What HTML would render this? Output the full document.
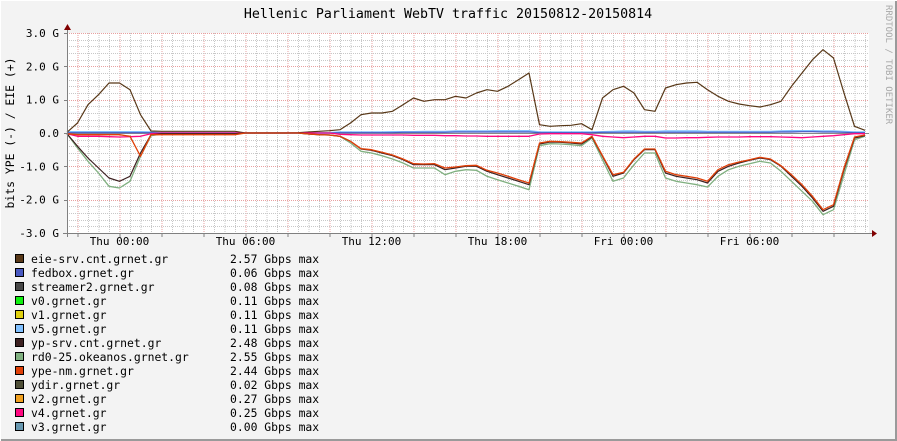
<!DOCTYPE html>
<html><head><meta charset="utf-8"><style>
html,body{margin:0;padding:0;background:#f3f3f3;}
svg{display:block;font-family:"DejaVu Sans Mono","Liberation Mono",monospace;}
</style></head><body>
<svg id="chart" width="897" height="441" viewBox="0 0 897 441" xmlns="http://www.w3.org/2000/svg">
<rect x="0" y="0" width="897" height="441" fill="#f3f3f3"/>
<line x1="0" y1="440" x2="897" y2="440" stroke="#9a9a9a" stroke-width="2"/>
<line x1="896" y1="0" x2="896" y2="441" stroke="#9a9a9a" stroke-width="2"/>
<line x1="0" y1="0.5" x2="897" y2="0.5" stroke="#ffffff"/>
<line x1="0.5" y1="0" x2="0.5" y2="441" stroke="#ffffff"/>
<text x="448" y="18" text-anchor="middle" font-size="13.3" fill="#000">Hellenic Parliament WebTV traffic 20150812-20150814</text>
<text transform="translate(886,5) rotate(90)" font-size="9" fill="#a8a8a8">RRDTOOL / TOBI OETIKER</text>
<text transform="translate(14,133) rotate(-90)" text-anchor="middle" font-size="11.4" fill="#000">bits YPE (-) / EIE (+)</text>
<rect x="67" y="33" width="802" height="200" fill="#ffffff"/>
<g id="grid"></g>
<g id="series"></g>
<g id="axes"></g>
<g id="legend"></g>
</svg>
<script>
// ---- data (Gbps), sampled every 30 min starting Wed 21:30 ----
const tickLabelsY = ["3.0 G","2.0 G","1.0 G","0.0","-1.0 G","-2.0 G","-3.0 G"];
const tickValuesY = [3,2,1,0,-1,-2,-3];
const tickLabelsX = ["Thu 00:00","Thu 06:00","Thu 12:00","Thu 18:00","Fri 00:00","Fri 06:00"];
const tickHoursX = [2.5,8.5,14.5,20.5,26.5,32.5];
const eieSrv = [0.02,0.3,0.85,1.15,1.5,1.5,1.3,0.55,0.06,0.05,0.05,0.05,0.05,0.05,0.05,0.05,0.05,0,0,0,0,0,0.01,0.03,0.05,0.07,0.1,0.3,0.55,0.6,0.6,0.65,0.85,1.05,0.95,1.0,1.0,1.1,1.05,1.2,1.3,1.25,1.4,1.6,1.8,0.25,0.2,0.22,0.23,0.28,0.1,1.05,1.3,1.4,1.2,0.7,0.65,1.35,1.45,1.5,1.52,1.3,1.1,0.95,0.87,0.82,0.78,0.85,0.95,1.4,1.8,2.2,2.5,2.25,1.2,0.2,0.08];
const ypSrv = [0.02,0.4,0.75,1.05,1.35,1.45,1.3,0.6,0.05,0.02,0.02,0.02,0.02,0.02,0.02,0.02,0.02,0,0,0,0,0,0,0.03,0.05,0.06,0.1,0.25,0.48,0.52,0.6,0.68,0.8,0.95,0.95,0.95,1.1,1.05,1.0,1.0,1.15,1.25,1.35,1.45,1.55,0.33,0.27,0.28,0.3,0.33,0.12,0.7,1.3,1.2,0.8,0.5,0.5,1.2,1.3,1.35,1.4,1.5,1.15,1.0,0.9,0.82,0.75,0.8,1.0,1.3,1.6,1.95,2.35,2.2,1.1,0.15,0.08];
const rd025 = [0.02,0.45,0.85,1.2,1.6,1.65,1.45,0.7,0.08,0.03,0.03,0.03,0.03,0.03,0.03,0.03,0.03,0,0,0,0,0,0,0.03,0.05,0.06,0.1,0.3,0.55,0.6,0.68,0.78,0.9,1.05,1.05,1.05,1.25,1.15,1.1,1.12,1.3,1.4,1.5,1.6,1.7,0.38,0.32,0.33,0.35,0.38,0.15,0.8,1.45,1.35,0.95,0.6,0.6,1.35,1.45,1.5,1.55,1.62,1.3,1.1,1.0,0.92,0.85,0.9,1.15,1.45,1.75,2.05,2.45,2.3,1.25,0.2,0.1];
const ypeNm = [0.02,0.05,0.05,0.05,0.05,0.05,0.1,0.7,0.05,0.05,0.05,0.05,0.05,0.05,0.05,0.05,0.05,0,0,0,0,0,0,0.03,0.05,0.06,0.1,0.25,0.47,0.5,0.58,0.66,0.78,0.92,0.93,0.92,1.05,1.02,0.98,0.97,1.12,1.2,1.3,1.4,1.5,0.3,0.25,0.26,0.28,0.3,0.1,0.68,1.25,1.18,0.78,0.48,0.48,1.15,1.25,1.3,1.35,1.45,1.1,0.95,0.87,0.8,0.73,0.78,0.98,1.25,1.55,1.9,2.3,2.15,1.05,0.12,0.06];
const v4 = [0.02,0.1,0.1,0.1,0.11,0.12,0.11,0.1,0.02,0,0,0,0,0,0,0,0,0,0,0,0,0,0,0,0,0,0.04,0.05,0.06,0.06,0.06,0.06,0.06,0.07,0.07,0.07,0.08,0.08,0.09,0.09,0.1,0.1,0.1,0.1,0.1,0.03,0.02,0.02,0.02,0.02,0.05,0.1,0.12,0.14,0.12,0.1,0.1,0.15,0.15,0.14,0.14,0.13,0.12,0.12,0.12,0.11,0.11,0.11,0.12,0.13,0.14,0.12,0.1,0.08,0.05,0.02,0.02];
const v5 = [0.03,0.03,0.03,0.03,0.03,0.03,0.03,0.03,0.02,0,0,0,0,0,0,0,0,0,0,0,0,0,0,0,0,0,0.02,0.02,0.02,0.02,0.02,0.03,0.03,0.03,0.04,0.04,0.04,0.05,0.05,0.05,0.05,0.06,0.06,0.06,0.06,0.02,0.02,0.02,0.02,0.02,0.02,0.03,0.04,0.05,0.05,0.04,0.04,0.05,0.05,0.05,0.05,0.04,0.04,0.04,0.04,0.04,0.04,0.04,0.05,0.06,0.06,0.06,0.05,0.05,0.04,0.02,0.02];
const fedbox = [0.01,0.01,0.01,0.01,0.01,0.01,0.01,0.01,0.01,0,0,0,0,0,0,0,0,0,0,0,0,0,0,0,0,0,0.01,0.01,0.01,0.01,0.01,0.01,0.02,0.02,0.02,0.02,0.02,0.03,0.03,0.03,0.03,0.03,0.03,0.03,0.03,0.01,0.01,0.01,0.01,0.01,0.01,0.02,0.02,0.02,0.02,0.02,0.02,0.02,0.02,0.02,0.02,0.02,0.02,0.02,0.02,0.02,0.02,0.02,0.03,0.03,0.04,0.04,0.03,0.03,0.02,0.01,0.01];

const legendNames = ["eie-srv.cnt.grnet.gr","fedbox.grnet.gr","streamer2.grnet.gr","v0.grnet.gr","v1.grnet.gr","v5.grnet.gr","yp-srv.cnt.grnet.gr","rd0-25.okeanos.grnet.gr","ype-nm.grnet.gr","ydir.grnet.gr","v2.grnet.gr","v4.grnet.gr","v3.grnet.gr"];
const legendMax = ["2.57","0.06","0.08","0.11","0.11","0.11","2.48","2.55","2.44","0.02","0.27","0.25","0.00"];
const legendColors = ["#583818","#4858c0","#484848","#10f010","#e0d010","#80c0ff","#3c2020","#80b080","#e04008","#505038","#f0a020","#ff0880","#6898b0"];

const NS = "http://www.w3.org/2000/svg";
const X0 = 67, X1 = 869, Y0 = 33, Y1 = 233, PXH = 21, HOURS_TOTAL = (X1 - X0) / PXH;
function xh(h){ return X0 + h * PXH; }
function xi(i){ return xh(i * 0.5); }
function yv(v){ return 133 - v * (Y1 - Y0) / 6; }
function mk(tag, attrs, parent){ const e = document.createElementNS(NS, tag); for (const k in attrs) e.setAttribute(k, attrs[k]); parent.appendChild(e); return e; }

const grid = document.getElementById('grid');
for (let h = 0.5; h < HOURS_TOTAL; h += 0.5) {
  const x = xh(h) + 0.5;
  const major = Math.abs(((h - 0.5) % 2)) < 1e-6;
  const l = mk('line', {x1:x, y1:Y0, x2:x, y2:Y1, stroke: major ? '#e8a0a0' : '#c8c8c8', 'stroke-dasharray':'1,1', 'stroke-width':1}, grid);
  
  
}
for (let k = -15; k <= 15; k++) {
  const v = k * 0.2; const y = Math.round(yv(v)) + 0.5;
  const major = k % 5 === 0;
  const l = mk('line', {x1:X0, y1:y, x2:X1, y2:y, stroke: major ? '#e8a0a0' : '#c8c8c8', 'stroke-dasharray':'1,1', 'stroke-width':1}, grid);
  
  
}

const series = document.getElementById('series');
function drawLine(arr, sign, color, name, w){
  const pts = arr.map((v, i) => xi(i).toFixed(1) + ',' + yv(sign * v).toFixed(1)).join(' ');
  const p = mk('polyline', {points: pts, fill:'none', stroke: color, 'stroke-width': w || 1, 'stroke-linejoin':'round'}, series);
  
  
}
mk('line', {x1:X0, y1:133.5, x2:X1, y2:133.5, stroke:'#888888'}, series);
drawLine(v5, 1, '#80c0ff', 'v5-line', 2);
drawLine(fedbox, 1, '#4858c0', 'fedbox-line', 1.2);
drawLine(eieSrv, 1, '#583818', 'eie-srv-line', 1.2);
drawLine(v4, -1, '#ff0880', 'v4-line', 1.3);
drawLine(rd025, -1, '#80b080', 'rd0-25-line', 1.3);
drawLine(ypSrv, -1, '#3c2020', 'yp-srv-line', 1.2);
drawLine(ypeNm, -1, '#e04008', 'ype-nm-line', 1.3);

const axes = document.getElementById('axes');
mk('line', {x1:63, y1:233.5, x2:872, y2:233.5, stroke:'#808080'}, axes);
mk('line', {x1:67.5, y1:237, x2:67.5, y2:29, stroke:'#808080'}, axes);
mk('polygon', {points:'872,230 877,233.5 872,237', fill:'#800000'}, axes);
mk('polygon', {points:'64,30 67.5,24 71,30', fill:'#800000'}, axes);
tickValuesY.forEach((v, i) => {
  const t = mk('text', {x:59, y:yv(v) + 4, 'text-anchor':'end', 'font-size':11, fill:'#000'}, axes);
  t.textContent = tickLabelsY[i];
  
  
  mk('line', {x1:64, y1:Math.round(yv(v))+0.5, x2:67, y2:Math.round(yv(v))+0.5, stroke:'#808080'}, axes);
});
tickHoursX.forEach((h, i) => {
  const t = mk('text', {x:xh(h), y:245, 'text-anchor':'middle', 'font-size':11, fill:'#000'}, axes);
  t.textContent = tickLabelsX[i];
  
  
});
for (let h = 0.5; h < HOURS_TOTAL; h += 2) mk('line', {x1:xh(h)+0.5, y1:233, x2:xh(h)+0.5, y2:237, stroke:'#808080'}, axes);

const legend = document.getElementById('legend');
legendNames.forEach((n, i) => {
  const y = 259 + i * 14;
  const g = mk('g', {}, legend);
  
  
  mk('rect', {x:15.5, y:y-4.5, width:8, height:8, fill:legendColors[i], stroke:'#000', 'stroke-width':1}, g);
  const t = mk('text', {x:31, y:y+4, 'font-size':11.4, fill:'#000'}, g);
  t.textContent = n;
  const t2 = mk('text', {x:230, y:y+4, 'font-size':11.4, fill:'#000', 'xml:space':'preserve'}, g);
  t2.textContent = legendMax[i] + ' Gbps max';
});
</script>
</body></html>
